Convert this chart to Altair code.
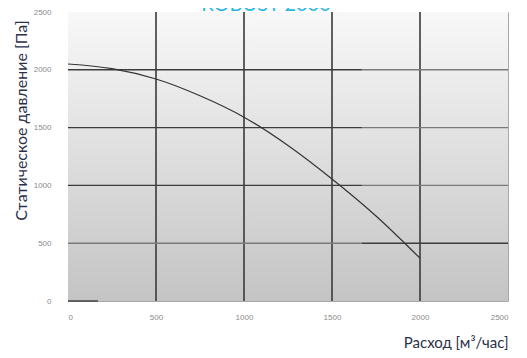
import altair as alt
import pandas as pd

flow = [0, 250, 500, 750, 1000, 1250, 1500, 1750, 2000]
pressure = [2050, 2010, 1920, 1775, 1590, 1345, 1055, 735, 370]

vlines = [500, 1000, 1500, 2000]
hlines_dark_left = [1000, 1500, 2000]
tick_vals = [0, 500, 1000, 1500, 2000, 2500]

curve = pd.DataFrame({"flow": flow, "p": pressure})

xs = alt.Scale(domain=[0, 2500], nice=False, zero=False)
ys = alt.Scale(domain=[0, 2500], nice=False, zero=False)

bg_df = pd.DataFrame({"x0": [0], "x1": [2500], "y0": [0], "y1": [2500]})
bg = alt.Chart(bg_df).mark_rect(
    fill={"gradient": "linear", "x1": 0, "y1": 0, "x2": 0, "y2": 1,
          "stops": [{"offset": 0, "color": "#f8f8f8"},
                    {"offset": 1, "color": "#c4c4c4"}]}
).encode(
    x=alt.X("x0:Q", scale=xs, axis=alt.Axis(
        values=tick_vals, format="d", grid=False, domain=False, ticks=False,
        labelFontSize=8, labelColor="#8a8a8a", labelFont="Liberation Sans",
        labelPadding=12, title="Расход  [м³/час]", titleFont="Lato",
        titleFontSize=15, titleFontWeight="normal", titleColor="#2b3048",
        titleAnchor="end", titleAlign="right", titleX=440, titleY=49,
        titleBaseline="bottom")),
    x2="x1:Q",
    y=alt.Y("y0:Q", scale=ys, axis=alt.Axis(
        values=tick_vals, format="d", grid=False, domain=False, ticks=False,
        labelFontSize=8, labelColor="#8a8a8a", labelFont="Liberation Sans",
        labelPadding=17, title="Статическое давление [Па]", titleFont="Lato",
        titleFontSize=16, titleFontWeight="normal", titleColor="#2b3048",
        titleAnchor="middle", titleX=-47, titleY=108, titleAngle=270,
        titleBaseline="middle")),
    y2="y1:Q",
)

vdf = pd.DataFrame({"x": vlines, "y0": [0] * 4, "y1": [2500] * 4})
vr = alt.Chart(vdf).mark_rule(color="#3a3a3a", strokeWidth=1.6).encode(
    x=alt.X("x:Q", scale=xs), y=alt.Y("y0:Q", scale=ys), y2="y1:Q")

h_rows = []
for h in hlines_dark_left:
    h_rows.append({"y": h, "x0": 0, "x1": 1670, "c": "dark"})
    h_rows.append({"y": h, "x0": 1670, "x1": 2500, "c": "light"})
h_rows.append({"y": 500, "x0": 0, "x1": 1670, "c": "light"})
h_rows.append({"y": 500, "x0": 1670, "x1": 2500, "c": "dark"})
h_rows.append({"y": 0, "x0": 0, "x1": 170, "c": "dark"})
hdf = pd.DataFrame(h_rows)
hr = alt.Chart(hdf).mark_rule(strokeWidth=1.4).encode(
    x=alt.X("x0:Q", scale=xs), x2="x1:Q", y=alt.Y("y:Q", scale=ys),
    color=alt.Color("c:N", scale=alt.Scale(domain=["dark", "light"],
                                           range=["#3c3c3c", "#7a7a7a"]),
                    legend=None))

line = alt.Chart(curve).mark_line(color="#333333", strokeWidth=1.2,
                                  interpolate="monotone").encode(
    x=alt.X("flow:Q", scale=xs), y=alt.Y("p:Q", scale=ys))

title = alt.Chart(pd.DataFrame({"t": ["ROBUST 2000"]})).mark_text(
    font="Lato", fontSize=20, color="#29b5e6", baseline="bottom",
    align="center").encode(text="t:N", x=alt.value(198), y=alt.value(3))

chart = alt.layer(bg, vr, hr, line, title).properties(
    width=440, height=289,
    autosize=alt.AutoSizeParams(type="none"),
    padding={"left": 60, "top": 4, "right": 11, "bottom": 49},
).configure_view(stroke="#a8a8a8", strokeWidth=1)

chart.save("out.html", embed_options={"renderer": "svg", "actions": False})
